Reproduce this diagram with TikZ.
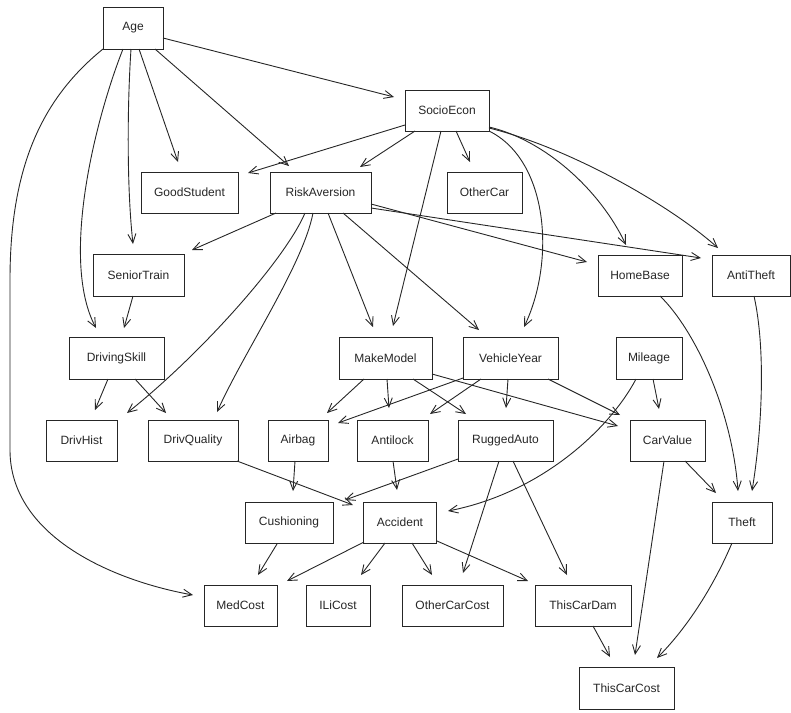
\documentclass[tikz,border=0pt]{standalone}
\usepackage{fontspec}
\setmainfont{Liberation Sans}
\usetikzlibrary{arrows.meta}
\tikzset{
  box/.style={draw=black!85, line width=0.9pt, rectangle, inner sep=0pt, minimum height=41pt, text=black!85, font=\fontsize{12}{14}\selectfont},
  arr/.style={draw=black!85, line width=0.9pt, -{Straight Barb[length=9pt,width=8pt]}}
}
\begin{document}
\begin{tikzpicture}[x=1pt,y=-1pt]
\useasboundingbox (0,0) rectangle (791,712);
% nodes
\node[box, minimum width=60pt, minimum height=42pt] (Age) at (133,28) {Age};
\node[box, minimum width=84pt] (SocioEcon) at (447,110.5) {SocioEcon};
\node[box, minimum width=97pt] (GoodStudent) at (189.5,192.5) {GoodStudent};
\node[box, minimum width=101pt] (RiskAversion) at (320.5,192.5) {RiskAversion};
\node[box, minimum width=75pt] (OtherCar) at (484.5,192.5) {OtherCar};
\node[box, minimum width=91pt, minimum height=42pt] (SeniorTrain) at (138.5,275) {SeniorTrain};
\node[box, minimum width=84pt] (HomeBase) at (640,275.5) {HomeBase};
\node[box, minimum width=78pt] (AntiTheft) at (751,275.5) {AntiTheft};
\node[box, minimum width=95pt, minimum height=42pt] (DrivingSkill) at (116.5,358) {DrivingSkill};
\node[box, minimum width=93pt, minimum height=42pt] (MakeModel) at (385.5,358) {MakeModel};
\node[box, minimum width=95pt, minimum height=42pt] (VehicleYear) at (510.5,358) {VehicleYear};
\node[box, minimum width=66pt, minimum height=42pt] (Mileage) at (649,358) {Mileage};
\node[box, minimum width=71pt] (DrivHist) at (81.5,440.5) {DrivHist};
\node[box, minimum width=90pt] (DrivQuality) at (193,440.5) {DrivQuality};
\node[box, minimum width=60pt] (Airbag) at (298,440.5) {Airbag};
\node[box, minimum width=71pt] (Antilock) at (392.5,440.5) {Antilock};
\node[box, minimum width=95pt] (RuggedAuto) at (505.5,440.5) {RuggedAuto};
\node[box, minimum width=75pt] (CarValue) at (667.5,440.5) {CarValue};
\node[box, minimum width=88pt] (Cushioning) at (289,522.5) {Cushioning};
\node[box, minimum width=73pt] (Accident) at (400,522.5) {Accident};
\node[box, minimum width=60pt] (Theft) at (742,522.5) {Theft};
\node[box, minimum width=73pt] (MedCost) at (240.5,605.5) {MedCost};
\node[box, minimum width=64pt] (ILiCost) at (338,605.5) {ILiCost};
\node[box, minimum width=101pt] (OtherCarCost) at (452.5,605.5) {OtherCarCost};
\node[box, minimum width=96pt] (ThisCarDam) at (583,605.5) {ThisCarDam};
\node[box, minimum width=95pt, minimum height=42pt] (ThisCarCost) at (626.5,688) {ThisCarCost};
% Age
\draw[arr] ([shift={(30,10)}]Age.center) -- ([shift={(-53,-13.5)}]SocioEcon.center);
\draw[arr] ([shift={(6,21)}]Age.center) -- ([shift={(-11.5,-30.5)}]GoodStudent.center);
\draw[arr] ([shift={(22,21)}]Age.center) -- ([shift={(-31.5,-26.5)}]RiskAversion.center);
\draw[arr] ([shift={(-2,21)}]Age.center) .. controls (127,110) and (127,190) .. ([shift={(-5.5,-31)}]SeniorTrain.center);
\draw[arr] ([shift={(-10,21)}]Age.center) .. controls (95,120) and (60,260) .. ([shift={(-20.5,-30)}]DrivingSkill.center);
\draw[arr] ([shift={(-30,21)}]Age.center) .. controls (40,100) and (10,170) .. (10,280) -- (10,450) .. controls (10,535) and (110,580) .. ([shift={(-47.5,-10.5)}]MedCost.center);
% SocioEcon
\draw[arr] ([shift={(-42,14.5)}]SocioEcon.center) -- ([shift={(58.5,-19.5)}]GoodStudent.center);
\draw[arr] ([shift={(-32,20.5)}]SocioEcon.center) -- ([shift={(39.5,-25.5)}]RiskAversion.center);
\draw[arr] ([shift={(9,20.5)}]SocioEcon.center) -- ([shift={(-14.5,-30.5)}]OtherCar.center);
\draw[arr] ([shift={(-6,20.5)}]SocioEcon.center) -- ([shift={(7.5,-32)}]MakeModel.center);
\draw[arr] ([shift={(42,20.5)}]SocioEcon.center) .. controls (548,160) and (556,260) .. ([shift={(13.5,-31)}]VehicleYear.center);
\draw[arr] ([shift={(42,16.5)}]SocioEcon.center) .. controls (545,140) and (600,190) .. ([shift={(-14,-30.5)}]HomeBase.center);
\draw[arr] ([shift={(42,17.5)}]SocioEcon.center) .. controls (570,148) and (670,205) .. ([shift={(-33,-27.5)}]AntiTheft.center);
% RiskAversion
\draw[arr] ([shift={(-44.5,20.5)}]RiskAversion.center) -- ([shift={(53.5,-25)}]SeniorTrain.center);
\draw[arr] ([shift={(-15.5,20.5)}]RiskAversion.center) .. controls (285,260) and (200,355) .. ([shift={(45.5,-27.5)}]DrivHist.center);
\draw[arr] ([shift={(-7.5,20.5)}]RiskAversion.center) .. controls (303,265) and (245,350) .. ([shift={(24,-28.5)}]DrivQuality.center);
\draw[arr] ([shift={(7.5,20.5)}]RiskAversion.center) -- ([shift={(-12.5,-31)}]MakeModel.center);
\draw[arr] ([shift={(22.5,20.5)}]RiskAversion.center) -- ([shift={(-31.5,-28)}]VehicleYear.center);
\draw[arr] ([shift={(50.5,11.5)}]RiskAversion.center) -- ([shift={(-53,-13.5)}]HomeBase.center);
\draw[arr] ([shift={(50.5,15.5)}]RiskAversion.center) -- ([shift={(-50,-17.5)}]AntiTheft.center);
% SeniorTrain, DrivingSkill
\draw[arr] ([shift={(-5.5,21)}]SeniorTrain.center) -- ([shift={(7.5,-30)}]DrivingSkill.center);
\draw[arr] ([shift={(-8.5,21)}]DrivingSkill.center) -- ([shift={(13.5,-30.5)}]DrivHist.center);
\draw[arr] ([shift={(18.5,21)}]DrivingSkill.center) -- ([shift={(-27,-27.5)}]DrivQuality.center);
% MakeModel
\draw[arr] ([shift={(-21.5,21)}]MakeModel.center) -- ([shift={(29,-27.5)}]Airbag.center);
\draw[arr] ([shift={(1.5,21)}]MakeModel.center) -- ([shift={(-3.5,-32.5)}]Antilock.center);
\draw[arr] ([shift={(27.5,21)}]MakeModel.center) -- ([shift={(-39.5,-26.5)}]RuggedAuto.center);
\draw[arr] ([shift={(46.5,16)}]MakeModel.center) -- ([shift={(-49.5,-14.5)}]CarValue.center);
% VehicleYear
\draw[arr] ([shift={(-47.5,20)}]VehicleYear.center) -- ([shift={(40,-17.5)}]Airbag.center);
\draw[arr] ([shift={(-29.5,21)}]VehicleYear.center) -- ([shift={(37.5,-26.5)}]Antilock.center);
\draw[arr] ([shift={(-2.5,21)}]VehicleYear.center) -- ([shift={(0.5,-32.5)}]RuggedAuto.center);
\draw[arr] ([shift={(37.5,21)}]VehicleYear.center) -- ([shift={(-47.5,-25.5)}]CarValue.center);
% Mileage
\draw[arr] ([shift={(4,21)}]Mileage.center) -- ([shift={(-8.5,-31.5)}]CarValue.center);
\draw[arr] ([shift={(-13,21)}]Mileage.center) .. controls (612,425) and (545,492) .. ([shift={(48,-11.5)}]Accident.center);
% row 4 sources
\draw[arr] ([shift={(-3,20.5)}]Airbag.center) -- ([shift={(4,-31.5)}]Cushioning.center);
\draw[arr] ([shift={(44,20.5)}]DrivQuality.center) -- ([shift={(-47,-17.5)}]Accident.center);
\draw[arr] ([shift={(0.5,20.5)}]Antilock.center) -- ([shift={(-3,-32.5)}]Accident.center);
\draw[arr] ([shift={(-47.5,18.5)}]RuggedAuto.center) -- ([shift={(56,-22.5)}]Cushioning.center);
\draw[arr] ([shift={(-6.5,20.5)}]RuggedAuto.center) -- ([shift={(10.5,-32.5)}]OtherCarCost.center);
\draw[arr] ([shift={(7.5,20.5)}]RuggedAuto.center) -- ([shift={(-16,-30.5)}]ThisCarDam.center);
\draw[arr] ([shift={(17.5,20.5)}]CarValue.center) -- ([shift={(-26,-29.5)}]Theft.center);
\draw[arr] ([shift={(-3.5,20.5)}]CarValue.center) -- ([shift={(8.5,-33)}]ThisCarCost.center);
\draw[arr] ([shift={(20,20.5)}]HomeBase.center) .. controls (695,330) and (732,410) .. ([shift={(-4,-31.5)}]Theft.center);
\draw[arr] ([shift={(3,20.5)}]AntiTheft.center) .. controls (766,350) and (762,430) .. ([shift={(10,-31.5)}]Theft.center);
% row 5 sources
\draw[arr] ([shift={(-12,21.5)}]Cushioning.center) -- ([shift={(17.5,-30.5)}]MedCost.center);
\draw[arr] ([shift={(-36,19.5)}]Accident.center) -- ([shift={(46.5,-24.5)}]MedCost.center);
\draw[arr] ([shift={(-15,20.5)}]Accident.center) -- ([shift={(23,-30.5)}]ILiCost.center);
\draw[arr] ([shift={(12,20.5)}]Accident.center) -- ([shift={(-20.5,-30.5)}]OtherCarCost.center);
\draw[arr] ([shift={(37,18.5)}]Accident.center) -- ([shift={(-55,-24.5)}]ThisCarDam.center);
\draw[arr] ([shift={(-10,20.5)}]Theft.center) .. controls (712,590) and (685,630) .. ([shift={(30.5,-30)}]ThisCarCost.center);
\draw[arr] ([shift={(10,20.5)}]ThisCarDam.center) -- ([shift={(-16.5,-31)}]ThisCarCost.center);
\end{tikzpicture}
\end{document}
